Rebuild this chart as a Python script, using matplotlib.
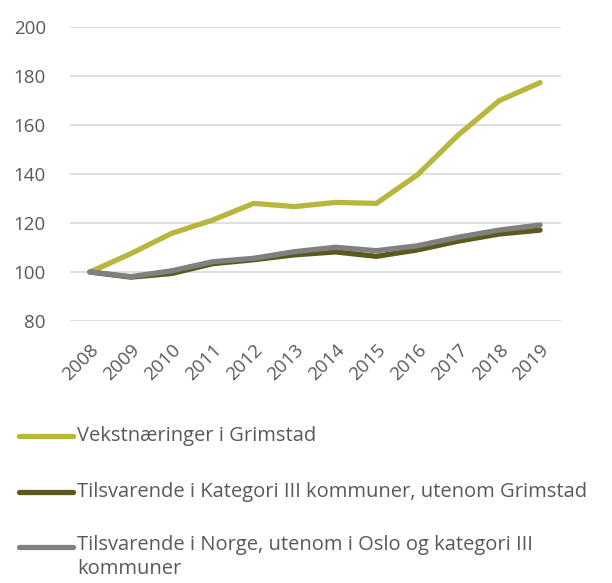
import matplotlib
matplotlib.use("Agg")
import matplotlib.pyplot as plt
from matplotlib.lines import Line2D

years = ["2008", "2009", "2010", "2011", "2012", "2013", "2014", "2015", "2016", "2017", "2018", "2019"]
grimstad = [100, 107.5, 115.8, 121.2, 128, 126.7, 128.4, 128, 139.6, 155.9, 169.9, 177.3]
kategori3 = [100, 97.9, 99.4, 103.4, 105, 107, 108.2, 106.4, 109, 112.6, 115.5, 117.1]
norge = [100, 98.1, 100.5, 104.2, 105.6, 108.3, 110.1, 108.7, 110.7, 114.2, 117.1, 119.2]

labels = ["Vekstnæringer i Grimstad",
          "Tilsvarende i Kategori III kommuner, utenom Grimstad",
          "Tilsvarende i Norge, utenom i Oslo og kategori III\nkommuner"]
colors = ["#B8B63C", "#5A5A1C", "#808080"]
yticks = [80, 100, 120, 140, 160, 180, 200]

plt.rcParams['font.family'] = ['Open Sans', 'DejaVu Sans']

fig = plt.figure(figsize=(6.12, 5.83), dpi=100)
W, H = 612, 583
ax = fig.add_axes([69.5 / W, 1 - 321 / H, (560.5 - 69.5) / W, (321 - 27) / H])

x = list(range(len(years)))
for series, c in zip([grimstad, kategori3, norge], colors):
    ax.plot(x, series, color=c, lw=3.8, solid_capstyle='round', solid_joinstyle='round', zorder=3)

ax.set_xlim(-0.5, len(years) - 0.5)
ax.set_ylim(80, 200)
ax.set_yticks(yticks)
ax.set_yticklabels([str(v) for v in yticks])
ax.set_xticks(x)
ax.set_xticklabels(years, rotation=45, ha='right', rotation_mode='anchor')
ax.grid(axis='y', color='#D9D9D9', lw=1.2)
ax.set_axisbelow(True)
for s in ax.spines.values():
    s.set_visible(False)
ax.tick_params(length=0, labelsize=13.5, colors='#595959')
ax.tick_params(axis='y', pad=17)
ax.tick_params(axis='x', pad=14)

# legend
ys = [436, 492, 547]
for lab, c, yy in zip(labels, colors, ys):
    fy = 1 - yy / H
    fig.add_artist(Line2D([19 / W, 73 / W], [fy, fy], color=c, lw=3.8, solid_capstyle='round',
                          transform=fig.transFigure))
    if '\n' in lab:
        fig.text(77 / W, fy + 12 / H, lab, fontsize=14.5, color='#595959', va='top', ha='left',
                 linespacing=1.3, transform=fig.transFigure)
    else:
        fig.text(77 / W, fy, lab, fontsize=14.5, color='#595959', va='center', ha='left',
                 transform=fig.transFigure)

fig.savefig("out.png", dpi=100)
